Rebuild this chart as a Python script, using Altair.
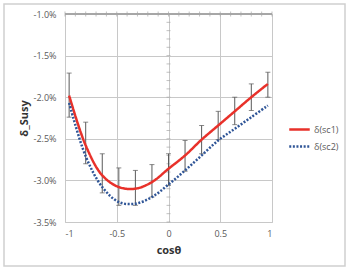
import altair as alt
import pandas as pd

# cosθ positions of the computed points
cos_theta = [-0.96, -0.80, -0.64, -0.48, -0.32, -0.16, 0.0, 0.16, 0.32, 0.48, 0.64, 0.80, 0.96]
# δ values in percent
sc1 = [-1.98, -2.58, -2.94, -3.08, -3.10, -3.02, -2.86, -2.70, -2.51, -2.34, -2.17, -2.00, -1.84]
sc2 = [-2.07, -2.71, -3.08, -3.26, -3.28, -3.20, -3.05, -2.88, -2.70, -2.52, -2.38, -2.24, -2.10]
err_hi = [-1.71, -2.30, -2.68, -2.85, -2.88, -2.81, -2.68, -2.52, -2.34, -2.17, -2.00, -1.84, -1.70]
err_lo = [-2.24, -2.80, -3.15, -3.30, -3.30, -3.20, -3.06, -2.89, -2.68, -2.51, -2.33, -2.16, -2.00]

series_names = ["δ(sc1)", "δ(sc2)"]
x_ticks = [-1, -0.5, 0, 0.5, 1]
y_ticks = [-0.035, -0.03, -0.025, -0.02, -0.015, -0.01]
x_minor = [round(-1 + 0.1 * i, 2) for i in range(21)]
y_minor = [round(-0.035 + 0.001 * i, 4) for i in range(26)]

rows = []
for name, vals in zip(series_names, [sc1, sc2]):
    for c, v in zip(cos_theta, vals):
        rows.append({"cos": c, "val": v / 100, "series": name})
lines_df = pd.DataFrame(rows)
err_df = pd.DataFrame({"cos": cos_theta,
                       "lo": [v / 100 for v in err_lo],
                       "hi": [v / 100 for v in err_hi]})
xminor_df = pd.DataFrame({"cos": x_minor, "val": [-0.01] * len(x_minor)})
yminor_df = pd.DataFrame({"cos": [0.0] * len(y_minor), "val": y_minor})

xscale = alt.Scale(domain=[-1, 1], nice=False, zero=False)
yscale = alt.Scale(domain=[-0.035, -0.01], nice=False, zero=False)

grid_color = "#c8c8c8"
label_color = "#595959"
font = "Open Sans"

x_enc = alt.X("cos:Q", scale=xscale,
              axis=alt.Axis(values=x_ticks, title="cosθ", grid=True, gridColor=grid_color,
                            domain=False, ticks=False, labelPadding=7, labelFontSize=9,
                            labelColor=label_color, labelFont=font, titleFont=font,
                            labelExpr="datum.value + ''",
                            titleFontSize=11, titleFontWeight="bold", titleColor="#333333",
                            titlePadding=6))
y_enc = alt.Y("val:Q", scale=yscale,
              axis=alt.Axis(values=y_ticks, title="δ_Susy", grid=True, gridColor=grid_color,
                            domain=False, ticks=False, labelPadding=9, labelFontSize=9,
                            labelColor=label_color, labelFont=font, titleFont=font,
                            labelExpr="replace(format(datum.value, '.1%'), '\u2212', '-')",
                            titleFontSize=11, titleFontWeight="bold", titleColor="#333333",
                            titlePadding=4))

lines = alt.Chart(lines_df).mark_line(interpolate="catmull-rom", strokeWidth=2.5, strokeCap="butt").encode(
    x=x_enc, y=y_enc,
    color=alt.Color("series:N", scale=alt.Scale(domain=series_names, range=["#e8312a", "#2f5597"]),
                    legend=alt.Legend(title=None, orient="none", legendX=223, legendY=104,
                                      symbolType="stroke", symbolSize=420, symbolStrokeWidth=2.5,
                                      labelFontSize=9, labelColor=label_color, labelFont=font,
                                      labelOffset=3, rowPadding=0)),
    strokeDash=alt.StrokeDash("series:N", scale=alt.Scale(domain=series_names, range=[[1, 0], [2, 1.6]]),
                              legend=None),
)

err_rule = alt.Chart(err_df).mark_rule(color="#595959", strokeWidth=1).encode(
    x=alt.X("cos:Q", scale=xscale), y=alt.Y("lo:Q", scale=yscale), y2="hi:Q")
err_top = alt.Chart(err_df).mark_tick(color="#595959", orient="horizontal", size=5, thickness=1).encode(
    x=alt.X("cos:Q", scale=xscale), y=alt.Y("hi:Q", scale=yscale))
err_bot = alt.Chart(err_df).mark_tick(color="#595959", orient="horizontal", size=5, thickness=1).encode(
    x=alt.X("cos:Q", scale=xscale), y=alt.Y("lo:Q", scale=yscale))

top_axis = alt.Chart(xminor_df).mark_rule(color="#a6a6a6", strokeWidth=1).encode(
    x=alt.value(0), x2=alt.value(207), y=alt.Y("val:Q", scale=yscale))
xminor = alt.Chart(xminor_df).mark_tick(color="#a6a6a6", orient="vertical", size=5, thickness=1).encode(
    x=alt.X("cos:Q", scale=xscale), y=alt.Y("val:Q", scale=yscale))
yminor = alt.Chart(yminor_df).mark_tick(color="#a6a6a6", orient="horizontal", size=4, thickness=1).encode(
    x=alt.X("cos:Q", scale=xscale), y=alt.Y("val:Q", scale=yscale))

frame = alt.Chart(xminor_df.head(1)).mark_rect(fill=None, stroke="#d0d0d0", strokeWidth=1.5, clip=False).encode(
    x=alt.value(-61), x2=alt.value(280), y=alt.value(-10), y2=alt.value(252))

chart = alt.layer(frame, top_axis, xminor, yminor, err_rule, err_top, err_bot, lines).properties(
    width=207, height=208,
    autosize=alt.AutoSizeParams(type="none"),
    padding={"left": 65, "top": 14, "right": 77, "bottom": 47},
    background="white",
).configure_view(stroke="#c8c8c8")

chart.save("out.html", embed_options={"renderer": "svg", "actions": False})
